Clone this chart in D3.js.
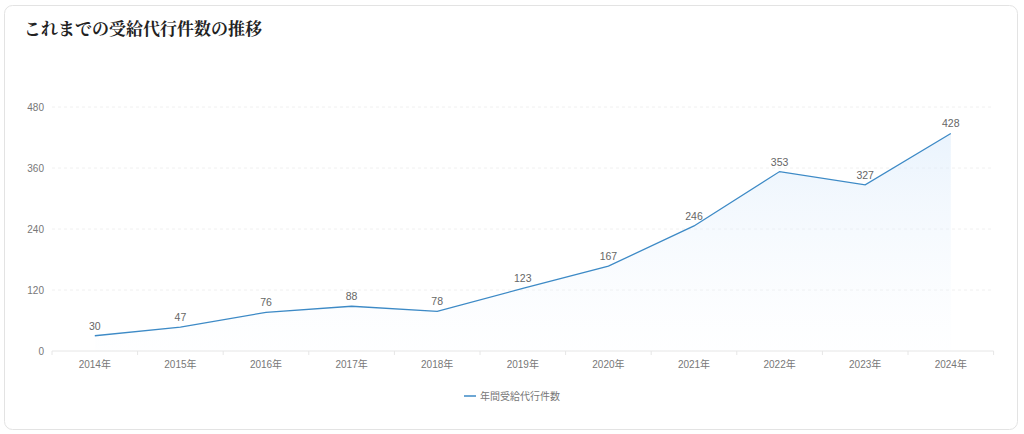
<!DOCTYPE html>
<html>
<head>
<meta charset="utf-8">
<script src="https://d3js.org/d3.v7.min.js"></script>
<style>
body { margin: 0; background: #fff; }
svg { display: block; }
</style>
</head>
<body>
<svg id="chart" width="1024" height="434"></svg>
<script>
// data
var years = ["2014年","2015年","2016年","2017年","2018年","2019年","2020年","2021年","2022年","2023年","2024年"];
var counts = [30, 47, 76, 88, 78, 123, 167, 246, 353, 327, 428];
var yTicks = [0, 120, 240, 360, 480];
var seriesName = "年間受給代行件数";
var title = "これまでの受給代行件数の推移";

var svg = d3.select("#chart");
var plotLeft = 52, plotRight = 993.6, plotTop = 107, plotBottom = 351;
var font = "'Liberation Sans', 'Noto Sans CJK JP', sans-serif";

// card
svg.append("rect")
  .attr("x", 4.5).attr("y", 5.5)
  .attr("width", 1013).attr("height", 424)
  .attr("rx", 8)
  .attr("fill", "#fff")
  .attr("stroke", "#e3e3e3");

svg.append("text")
  .attr("x", 24).attr("y", 35)
  .attr("font-family", "'Noto Serif CJK JP', 'Noto Sans CJK JP', serif")
  .attr("font-weight", "bold")
  .attr("font-size", 17)
  .attr("fill", "#222")
  .text(title);

var xs = d3.scaleBand().domain(years).range([plotLeft, plotRight]);
var ys = d3.scaleLinear().domain([0, 480]).range([plotBottom, plotTop]);
var cx = function(d){ return xs(d) + xs.bandwidth()/2; };

// gradient
var grad = svg.append("defs").append("linearGradient")
  .attr("id", "fillGrad").attr("x1", 0).attr("y1", 0).attr("x2", 0).attr("y2", 1);
grad.append("stop").attr("offset", "0%").attr("stop-color", "#d9eafb").attr("stop-opacity", 0.55);
grad.append("stop").attr("offset", "100%").attr("stop-color", "#eef5fd").attr("stop-opacity", 0.05);

// grid
svg.append("g").selectAll("line")
  .data(yTicks.filter(function(t){ return t > 0; }))
  .enter().append("line")
  .attr("x1", plotLeft).attr("x2", plotRight)
  .attr("y1", function(d){ return ys(d); })
  .attr("y2", function(d){ return ys(d); })
  .attr("stroke", "#f0f0f0")
  .attr("stroke-dasharray", "3,3");

// y labels
svg.append("g").selectAll("text")
  .data(yTicks).enter().append("text")
  .attr("x", 44)
  .attr("y", function(d){ return ys(d); })
  .attr("dy", "0.35em")
  .attr("text-anchor", "end")
  .attr("font-family", font)
  .attr("font-size", 10)
  .attr("fill", "#777")
  .text(function(d){ return d; });

// area + line
var pts = years.map(function(y, i){ return [cx(y), counts[i]]; });
var area = d3.area()
  .x(function(d){ return d[0]; })
  .y0(ys(0))
  .y1(function(d){ return ys(d[1]); });
svg.append("path").datum(pts)
  .attr("d", area)
  .attr("fill", "url(#fillGrad)");

var line = d3.line()
  .x(function(d){ return d[0]; })
  .y(function(d){ return ys(d[1]); });
svg.append("path").datum(pts)
  .attr("d", line)
  .attr("fill", "none")
  .attr("stroke", "#3d8ac6")
  .attr("stroke-width", 1.3);

// x axis
var xAxis = svg.append("g")
  .attr("transform", "translate(0," + plotBottom + ")");
xAxis.append("line")
  .attr("x1", plotLeft).attr("x2", plotRight)
  .attr("stroke", "#e6e6e6");
xAxis.selectAll(".tk")
  .data(d3.range(years.length + 1)).enter().append("line")
  .attr("x1", function(i){ return plotLeft + i * xs.bandwidth(); })
  .attr("x2", function(i){ return plotLeft + i * xs.bandwidth(); })
  .attr("y1", 0).attr("y2", 4)
  .attr("stroke", "#e6e6e6");
xAxis.selectAll("text")
  .data(years).enter().append("text")
  .attr("x", cx)
  .attr("y", 17)
  .attr("text-anchor", "middle")
  .attr("font-family", font)
  .attr("font-size", 10)
  .attr("fill", "#777")
  .text(function(d){ return d; });

// value labels
svg.append("g").selectAll("text")
  .data(pts).enter().append("text")
  .attr("x", function(d){ return d[0]; })
  .attr("y", function(d){ return ys(d[1]) - 6; })
  .attr("text-anchor", "middle")
  .attr("font-family", font)
  .attr("font-size", 10.5)
  .attr("fill", "#666")
  .text(function(d){ return d[1]; });

// legend
svg.append("line")
  .attr("x1", 464).attr("x2", 476)
  .attr("y1", 396).attr("y2", 396)
  .attr("stroke", "#3d8ac6")
  .attr("stroke-width", 1.5);
svg.append("text")
  .attr("x", 480).attr("y", 396)
  .attr("dy", "0.35em")
  .attr("font-family", font)
  .attr("font-size", 10)
  .attr("fill", "#777")
  .text(seriesName);
</script>
</body>
</html>
